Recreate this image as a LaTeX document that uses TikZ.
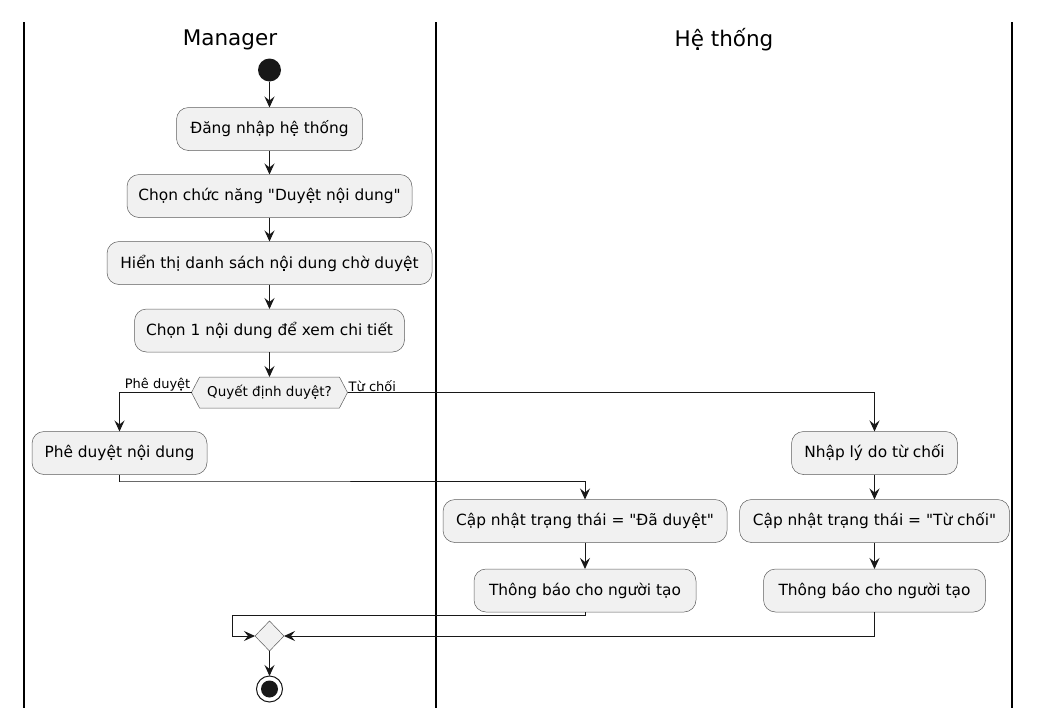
\documentclass[tikz,border=0pt]{standalone}
\usepackage{fontspec}
\setmainfont{DejaVu Sans}
\usetikzlibrary{shapes.geometric,shapes.symbols,arrows.meta}
\definecolor{ln}{HTML}{181818}
\definecolor{bx}{HTML}{F1F1F1}
\newcommand{\qd}{\textquotedbl}
\tikzset{
  act/.style={draw=ln!70, line width=0.5pt, fill=bx, rounded corners=12pt, minimum height=43pt, inner sep=0pt, outer sep=0pt, font=\fontsize{15.4}{17}\selectfont},
  arr/.style={draw=ln, line width=1pt, -{Stealth[length=11pt,width=10pt,inset=4pt]}},
  lane/.style={draw=black, line width=1.4pt},
  title/.style={font=\fontsize{21.5}{24}\selectfont},
  lbl/.style={font=\fontsize{13}{14}\selectfont, inner sep=1pt},
}
\begin{document}
\begin{tikzpicture}[x=1pt,y=-1pt]
\useasboundingbox (0,0) rectangle (1037,718);
% lanes
\draw[lane] (24,22) -- (24,708);
\draw[lane] (436,22) -- (436,708);
\draw[lane] (1012,22) -- (1012,708);
\node[title] (t1) at (230,40) {Manager};
\node[title] (t2) at (724,40) {Hệ thống};
% nodes
\node[circle, fill=ln, minimum size=23pt, inner sep=0pt, outer sep=0pt] (start) at (269.5,70) {};
\node[act, minimum width=186pt] (b1) at (269.5,129) {Đăng nhập hệ thống};
\node[act, minimum width=285pt] (b2) at (269.5,196) {Chọn chức năng \qd Duyệt nội dung\qd};
\node[act, minimum width=325pt] (b3) at (269.5,263) {Hiển thị danh sách nội dung chờ duyệt};
\node[act, minimum width=270pt] (b4) at (269.5,330.5) {Chọn 1 nội dung để xem chi tiết};
\node[signal, signal to=west and east, signal pointer angle=125, draw=ln!70, line width=0.5pt, fill=bx, minimum width=156pt, minimum height=31pt, inner sep=0pt, outer sep=0pt, font=\fontsize{13.5}{14}\selectfont] (dec) at (269.5,392.5) {Quyết định duyệt?};
\node[act, minimum width=175pt] (pd) at (119.5,453) {Phê duyệt nội dung};
\node[act, minimum width=166pt] (nl) at (874.5,453) {Nhập lý do từ chối};
\node[act, minimum width=284pt] (cd) at (585,521) {Cập nhật trạng thái = \qd Đã duyệt\qd};
\node[act, minimum width=270pt] (cr) at (874.5,521) {Cập nhật trạng thái = \qd Từ chối\qd};
\node[act, minimum width=222pt] (td) at (585,590.5) {Thông báo cho người tạo};
\node[act, minimum width=222pt] (tr) at (874.5,590.5) {Thông báo cho người tạo};
\node[diamond, draw=ln!70, line width=0.5pt, fill=bx, minimum width=29pt, minimum height=30pt, inner sep=0pt, outer sep=0pt] (merge) at (269.5,636) {};
\node[circle, draw=ln, line width=1pt, minimum size=26pt, inner sep=0pt, outer sep=0pt] (stop) at (269.5,689) {};
\fill[ln] (stop.center) circle (8.5pt);
% labels
\node[lbl, anchor=south east] (l1) at (dec.west) {Phê duyệt};
\node[lbl, anchor=south west] (l2) at (dec.east) {Từ chối};
% connectors
\draw[arr] (start) -- (b1);
\draw[arr] (b1) -- (b2);
\draw[arr] (b2) -- (b3);
\draw[arr] (b3) -- (b4);
\draw[arr] (b4) -- (dec);
\draw[arr] (dec.west) -| (pd.north);
\draw[arr] (dec.east) -| (nl.north);
\coordinate (pc) at (120,481);
\draw[arr] (pd.south) |- (pc) -| (cd.north);
\draw[arr] (nl) -- (cr);
\draw[arr] (cr) -- (tr);
\draw[arr] (cd) -- (td);
\coordinate (lp) at (232,615);
\draw[arr] (td.south) |- (lp) |- (merge.west);
\draw[arr] (tr.south) |- (merge.east);
\draw[arr] (merge) -- (stop);
\end{tikzpicture}
\end{document}
